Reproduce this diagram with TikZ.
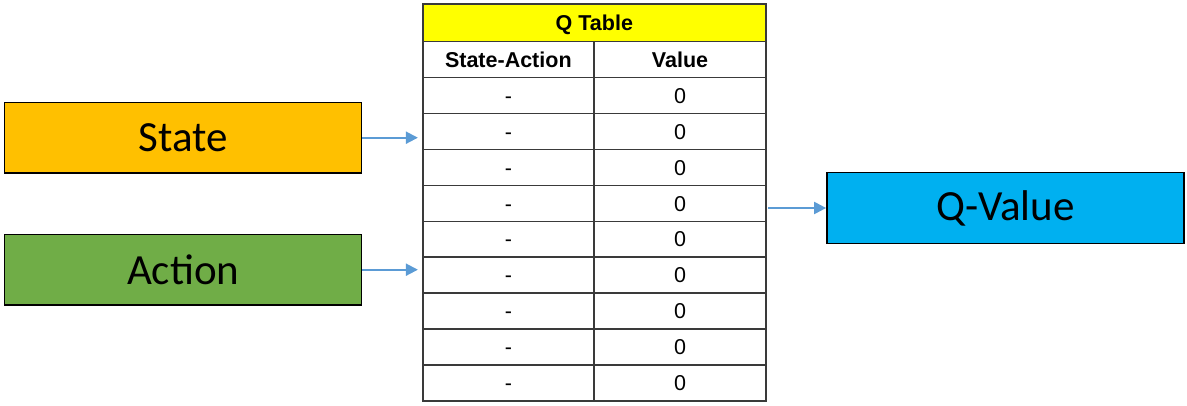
\documentclass[tikz,border=0pt]{standalone}
\usepackage{fontspec}
\setmainfont{Liberation Sans}
\newfontfamily\boxfont{Carlito}
\usetikzlibrary{arrows.meta}
\definecolor{stateorange}{HTML}{FFC000}
\definecolor{actiongreen}{HTML}{70AD47}
\definecolor{qblue}{HTML}{00B0F0}
\definecolor{hdryellow}{HTML}{FFFF00}
\definecolor{arrowblue}{HTML}{5B9BD5}
\definecolor{gridgray}{HTML}{3A3A3A}
\begin{document}
\begin{tikzpicture}[x=1pt,y=-1pt,
  bigbox/.style={draw=black,line width=1.4pt,minimum width=357pt,minimum height=70.7pt,
    inner sep=0pt,font=\boxfont\fontsize{43}{50}\selectfont},
  cell/.style={draw=gridgray,line width=1.4pt,inner sep=0pt,minimum height=35.9pt,
    text height=15.5pt,text depth=0pt,font=\fontsize{21.5}{24}\selectfont},
  headcell/.style={cell,font=\bfseries\fontsize{21.5}{24}\selectfont},
  arr/.style={draw=arrowblue,line width=2pt,-{Triangle[length=12pt,width=12pt]}}]
\useasboundingbox (0,0) rectangle (1187,406);

% input and output boxes
\node[bigbox,fill=stateorange] (state) at (183.2,137.7) {State};
\node[bigbox,fill=actiongreen] (action) at (183.2,269.7) {Action};
\node[bigbox,fill=qblue] (qvalue) at (1005.35,208) {Q-Value};

% Q table: title, column heads and nine rows
\node[headcell,fill=hdryellow,minimum width=343.3pt,minimum height=37.4pt] (hdr) at (594.35,23) {Q Table};
\node[headcell,minimum width=171.3pt,minimum height=36pt] (chsa) at (508.35,59.7) {State-Action};
\node[headcell,minimum width=172pt,minimum height=36pt] (chv) at (680,59.7) {Value};
\foreach \i in {1,...,9}{
  \node[cell,minimum width=171.3pt] (sa\i) at (508.35,{77.7+(\i-0.5)*35.9}) {-};
  \node[cell,minimum width=172pt] (v\i) at (680,{77.7+(\i-0.5)*35.9}) {0};
}
\node[draw=gridgray,line width=1.6pt,minimum width=343.3pt,minimum height=396.4pt,inner sep=0pt]
  (qtable) at (594.35,202.5) {};

% connectors
\draw[arr,shorten >=4pt] (state.east) -- (state.east -| qtable.west);
\draw[arr,shorten >=4pt] (action.east) -- (action.east -| qtable.west);
\draw[arr,shorten <=1.5pt] (qvalue.west -| qtable.east) -- (qvalue.west);
\end{tikzpicture}
\end{document}
